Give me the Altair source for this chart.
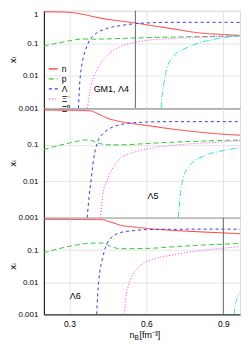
import altair as alt
import pandas as pd

species = ["n", "p", "Λ", "Ξ⁻", "Ξ⁰"]
colors = ["#ff3333", "#33cc33", "#3333ff", "#ff33ff", "#33dddd"]
dashes = [[1, 0], [5, 3], [3, 3], [1, 2], [6, 2, 1, 2]]

# ---- Panel 1: GM1, Λ4 ----
p1_n_nb = [0.2, 0.3, 0.35, 0.4, 0.45, 0.5, 0.557, 0.6, 0.7, 0.8, 0.9, 1.0]
p1_n_x = [0.93, 0.89, 0.78, 0.64, 0.54, 0.48, 0.42, 0.37, 0.28, 0.21, 0.185, 0.17]
p1_p_nb = [0.2, 0.25, 0.3, 0.35, 0.4, 0.5, 0.6, 0.7, 0.8, 0.9, 1.0]
p1_p_x = [0.082, 0.1, 0.118, 0.135, 0.134, 0.14, 0.148, 0.155, 0.16, 0.165, 0.17]
p1_l_nb = [0.335, 0.34, 0.346, 0.355, 0.365, 0.38, 0.4, 0.45, 0.5, 0.557, 0.6, 0.7, 0.8, 0.9, 1.0]
p1_l_x = [0.001, 0.006, 0.017, 0.04, 0.07, 0.13, 0.19, 0.29, 0.35, 0.40, 0.42, 0.44, 0.44, 0.44, 0.43]
p1_xm_nb = [0.37, 0.375, 0.385, 0.41, 0.45, 0.5, 0.557, 0.6, 0.7, 0.8, 0.9, 1.0]
p1_xm_x = [0.001, 0.002, 0.0053, 0.017, 0.044, 0.08, 0.107, 0.122, 0.14, 0.15, 0.16, 0.168]
p1_x0_nb = [0.657, 0.66, 0.666, 0.68, 0.705, 0.75, 0.8, 0.85, 0.9, 0.95, 1.0]
p1_x0_x = [0.001, 0.002, 0.0045, 0.017, 0.039, 0.068, 0.1, 0.125, 0.148, 0.165, 0.18]

# ---- Panel 2: Λ5 ----
p2_n_nb = [0.2, 0.3, 0.37, 0.385, 0.42, 0.45, 0.5, 0.55, 0.6, 0.7, 0.8, 0.9, 1.0]
p2_n_x = [0.9, 0.88, 0.86, 0.84, 0.66, 0.53, 0.43, 0.38, 0.34, 0.27, 0.225, 0.195, 0.18]
p2_p_nb = [0.2, 0.3, 0.37, 0.39, 0.42, 0.45, 0.5, 0.6, 0.7, 0.8, 0.9, 1.0]
p2_p_x = [0.074, 0.112, 0.137, 0.128, 0.108, 0.1, 0.1, 0.108, 0.118, 0.125, 0.132, 0.137]
p2_l_nb = [0.369, 0.375, 0.385, 0.395, 0.41, 0.43, 0.45, 0.5, 0.55, 0.6, 0.7, 0.8, 0.9, 1.0]
p2_l_x = [0.001, 0.003, 0.012, 0.045, 0.12, 0.2, 0.26, 0.36, 0.4, 0.42, 0.43, 0.43, 0.43, 0.43]
p2_xm_nb = [0.42, 0.425, 0.43, 0.445, 0.462, 0.5, 0.55, 0.6, 0.7, 0.8, 0.9, 1.0]
p2_xm_x = [0.001, 0.002, 0.0043, 0.01, 0.019, 0.043, 0.062, 0.077, 0.096, 0.11, 0.12, 0.137]
p2_x0_nb = [0.724, 0.728, 0.731, 0.743, 0.77, 0.82, 0.885, 0.95, 1.0]
p2_x0_x = [0.001, 0.002, 0.0035, 0.012, 0.028, 0.048, 0.066, 0.08, 0.09]

# ---- Panel 3: Λ6 ----
p3_n_nb = [0.2, 0.3, 0.43, 0.45, 0.48, 0.5, 0.55, 0.6, 0.7, 0.8, 0.9, 1.0]
p3_n_x = [0.9, 0.89, 0.87, 0.78, 0.66, 0.58, 0.52, 0.47, 0.41, 0.37, 0.34, 0.31]
p3_p_nb = [0.2, 0.3, 0.4, 0.43, 0.45, 0.5, 0.6, 0.7, 0.8, 0.9, 1.0]
p3_p_x = [0.082, 0.13, 0.165, 0.165, 0.14, 0.11, 0.112, 0.125, 0.14, 0.152, 0.164]
p3_l_nb = [0.406, 0.41, 0.418, 0.43, 0.44, 0.45, 0.47, 0.5, 0.55, 0.6, 0.7, 0.8, 0.9, 1.0]
p3_l_x = [0.001, 0.004, 0.02, 0.06, 0.12, 0.18, 0.27, 0.35, 0.4, 0.43, 0.44, 0.445, 0.445, 0.44]
p3_xm_nb = [0.515, 0.519, 0.53, 0.54, 0.577, 0.63, 0.7, 0.76, 0.83, 0.9, 1.0]
p3_xm_x = [0.001, 0.003, 0.008, 0.013, 0.033, 0.053, 0.07, 0.085, 0.1, 0.114, 0.135]
p3_x0_nb = [0.942, 0.949, 0.975, 1.0]
p3_x0_x = [0.001, 0.0025, 0.006, 0.011]

panel_labels = ["GM1, Λ4", "Λ5", "Λ6"]
vlines = [[0.557], [], [0.9]]
x_ticks = [0.3, 0.6, 0.9]

FONT = "Liberation Sans"


def build_df(series):
    rows = []
    for sp, nb, xs in series:
        for a, b in zip(nb, xs):
            rows.append({"species": sp, "nB": a, "xi": b})
    return pd.DataFrame(rows)


def panel(series, height, yvals, vline, label, label_pos, bottom, legend):
    df = build_df(series)
    xaxis = alt.Axis(values=x_ticks, grid=True, gridColor="#e4e4e4",
                     labels=bottom, ticks=False, title=None, format=".1f",
                     domainColor="black", labelFontSize=8.5, labelPadding=5,
                     labelColor="black", labelFont=FONT)
    yaxis = alt.Axis(values=yvals, grid=True, gridColor="#e4e4e4", ticks=False,
                     format="~g", title="xᵢ", titleFontWeight="normal",
                     titleFontSize=9, titleFont="DejaVu Sans", titlePadding=0,
                     labelFontSize=8, labelPadding=6, labelColor="black",
                     labelFont=FONT, domainColor="black",
                     labelBaseline={"condition": {"test": "datum.value >= 1", "value": "top"},
                                    "value": "middle"})
    if legend:
        leg = alt.Legend(title=None, orient="none", legendX=4, legendY=53,
                         symbolType="stroke", symbolSize=81, symbolStrokeWidth=1.2,
                         labelFontSize=8.5, labelFont=FONT, rowPadding=-0.5,
                         labelOffset=3, labelColor="black")
    else:
        leg = None
    lines = alt.Chart(df).mark_line(strokeWidth=1, clip=True, interpolate="monotone").encode(
        x=alt.X("nB:Q", scale=alt.Scale(domain=[0.2, 0.965], nice=False, zero=False), axis=xaxis),
        y=alt.Y("xi:Q", scale=alt.Scale(type="log", domain=[0.001, 1], nice=False), axis=yaxis),
        color=alt.Color("species:N", sort=species,
                        scale=alt.Scale(domain=species, range=colors), legend=leg),
        strokeDash=alt.StrokeDash("species:N", sort=species,
                                  scale=alt.Scale(domain=species, range=dashes), legend=leg),
    )
    layers = [lines]
    if vline:
        layers.append(alt.Chart(pd.DataFrame({"nB": vline})).mark_rule(
            color="#666666", strokeWidth=1).encode(x="nB:Q"))
    layers.append(alt.Chart(pd.DataFrame({"t": [label]})).mark_text(
        align="left", baseline="middle", fontSize=9, font=FONT, color="black").encode(
        text="t:N", x=alt.value(label_pos[0]), y=alt.value(label_pos[1])))
    if bottom:
        layers.append(alt.Chart(pd.DataFrame({"t": ["n"]})).mark_text(
            align="left", baseline="middle", fontSize=9, font=FONT, color="black").encode(
            text="t:N", x=alt.value(86), y=alt.value(height + 21)))
        layers.append(alt.Chart(pd.DataFrame({"t": ["B"]})).mark_text(
            align="left", baseline="middle", fontSize=6.5, font=FONT, color="black").encode(
            text="t:N", x=alt.value(91), y=alt.value(height + 24)))
        layers.append(alt.Chart(pd.DataFrame({"t": ["[fm⁻³]"]})).mark_text(
            align="left", baseline="middle", fontSize=9, font=FONT, color="black").encode(
            text="t:N", x=alt.value(96), y=alt.value(height + 21)))
    return alt.layer(*layers).properties(width=197, height=height)


top = panel([("n", p1_n_nb, p1_n_x), ("p", p1_p_nb, p1_p_x), ("Λ", p1_l_nb, p1_l_x),
             ("Ξ⁻", p1_xm_nb, p1_xm_x), ("Ξ⁰", p1_x0_nb, p1_x0_x)],
            98, [0.001, 0.01, 0.1, 1], vlines[0], panel_labels[0], (50, 79), False, True)
mid = panel([("n", p2_n_nb, p2_n_x), ("p", p2_p_nb, p2_p_x), ("Λ", p2_l_nb, p2_l_x),
             ("Ξ⁻", p2_xm_nb, p2_xm_x), ("Ξ⁰", p2_x0_nb, p2_x0_x)],
            110, [0.001, 0.01, 0.1], vlines[1], panel_labels[1], (104, 88), False, False)
bot = panel([("n", p3_n_nb, p3_n_x), ("p", p3_p_nb, p3_p_x), ("Λ", p3_l_nb, p3_l_x),
             ("Ξ⁻", p3_xm_nb, p3_xm_x), ("Ξ⁰", p3_x0_nb, p3_x0_x)],
            97, [0.001, 0.01, 0.1], vlines[2], panel_labels[2], (26, 79), True, False)

chart = alt.vconcat(top, mid, bot, spacing=0, bounds="flush").resolve_scale(
    color="independent", strokeDash="independent"
).properties(
    padding={"left": 0, "top": 1, "right": 0, "bottom": 0}
).configure_view(stroke="black", strokeWidth=1).configure(background="white")

chart.save("out.html", embed_options={"renderer": "svg", "actions": False})
